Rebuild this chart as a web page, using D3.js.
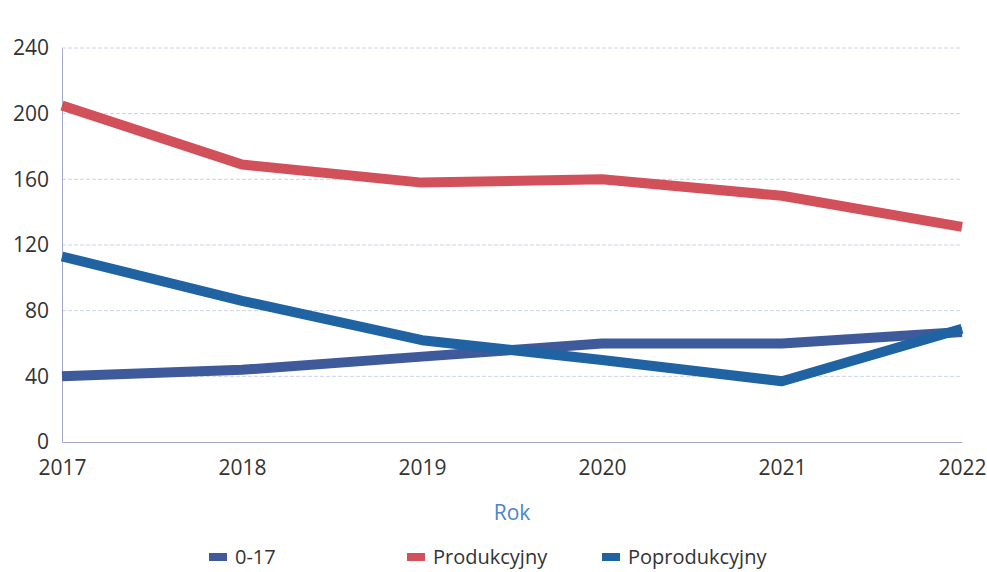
<!DOCTYPE html>
<html><head><meta charset="utf-8">
<script src="https://cdn.jsdelivr.net/npm/d3@7"></script>
<style>body{margin:0;background:#fff;} svg{display:block;font-family:"Open Sans",sans-serif;}</style>
</head><body>
<svg id="c" width="987" height="572"></svg>
<script>
const years = [2017, 2018, 2019, 2020, 2021, 2022];
const yTicks = [0, 40, 80, 120, 160, 200, 240];
const seriesNames = ["0-17", "Produkcyjny", "Poprodukcyjny"];
const seriesColors = ["#3f5a9a", "#d2505a", "#1f63a2"];
const vals017 = [40, 44, 52, 60, 60, 67];
const valsProd = [205, 169, 158, 160, 150, 131];
const valsPoprod = [113, 86, 62, 50, 37, 69];
const seriesValues = [vals017, valsProd, valsPoprod];

const svg = d3.select("#c");
const W = 987, H = 572;
const m = {l: 62, r: 25, t: 48, b: 130};
const x = d3.scalePoint().domain(years).range([m.l, W - m.r]);
const y = d3.scaleLinear().domain([0, 240]).range([H - m.b, m.t]);

// grid
svg.append("g").selectAll("line").data(yTicks.filter(d => d > 0)).join("line")
  .attr("x1", m.l).attr("x2", W - m.r)
  .attr("y1", d => y(d)).attr("y2", d => y(d))
  .attr("stroke", "#c9d2e6").attr("stroke-width", 1).attr("stroke-dasharray", "4,2");

// y axis
const ya = svg.append("g").attr("transform", `translate(${m.l},0)`)
  .call(d3.axisLeft(y).tickValues(yTicks).tickSize(0).tickPadding(13));
ya.select(".domain").attr("stroke", "#a4a8cc");
ya.selectAll("text").attr("font-size", 21).attr("fill", "#333").attr("font-family", "Open Sans");

// x axis
const xa = svg.append("g").attr("transform", `translate(0,${H - m.b})`)
  .call(d3.axisBottom(x).tickSize(0).tickPadding(18).tickFormat(d3.format("d")));
xa.select(".domain").attr("stroke", "#a4a8cc");
xa.selectAll("text").attr("font-size", 21).attr("fill", "#333").attr("font-family", "Open Sans");

// lines
const line = d3.line().x((d, i) => x(years[i])).y(d => y(d));
svg.append("g").selectAll("path").data(seriesValues).join("path")
  .attr("d", d => line(d))
  .attr("fill", "none")
  .attr("stroke", (d, i) => seriesColors[i])
  .attr("stroke-width", 10)
  .attr("stroke-linejoin", "round");

// axis title
svg.append("text").attr("x", 512).attr("y", 520).attr("text-anchor", "middle")
  .attr("font-size", 21).attr("fill", "#4a86c8").text("Rok");

// legend
const legX = [209, 407, 602];
const leg = svg.append("g").selectAll("g").data(seriesNames).join("g")
  .attr("transform", (d, i) => `translate(${legX[i]},557)`);
leg.append("rect").attr("x", 0).attr("y", -4).attr("width", 18).attr("height", 8)
  .attr("fill", (d, i) => seriesColors[i]);
leg.append("text").attr("x", 26).attr("y", 7).attr("font-size", 20).attr("fill", "#333").text(d => d);
</script>
</body></html>
